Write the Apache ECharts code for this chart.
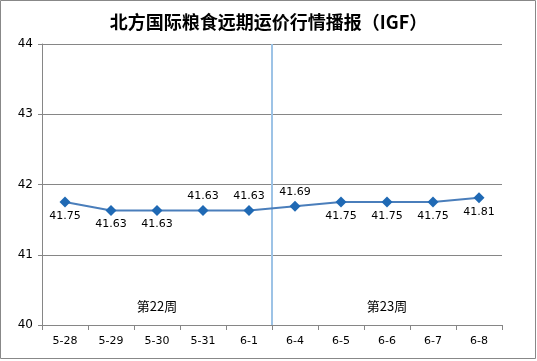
<!DOCTYPE html>
<html><head><meta charset="utf-8">
<script src="https://cdn.jsdelivr.net/npm/echarts@6/dist/echarts.min.js"></script>
<style>html,body{margin:0;padding:0;background:#fff}#c{width:537px;height:361px}</style>
</head><body><div id="c"></div>
<script>
var categories = ['5-28','5-29','5-30','5-31','6-1','6-4','6-5','6-6','6-7','6-8'];
var values = [41.75,41.63,41.63,41.63,41.63,41.69,41.75,41.75,41.75,41.81];
var labelPos = ['bottom','bottom','bottom','top','top','top','bottom','bottom','bottom','bottom'];
var weekLabels = ['第22周','第23周'];
var weekSizes = [5,5];
var titleText = '北方国际粮食远期运价行情播报（IGF）';

var chart = echarts.init(document.getElementById('c'), null, {renderer:'canvas'});
var grey = '#868686';
var font = 'Verdana, "DejaVu Sans", sans-serif';
var weekStart = [0, weekSizes[0]];
var weekEnd = [weekSizes[0], weekSizes[0]+weekSizes[1]];
chart.setOption({
  animation:false,
  title:{text:titleText,left:'center',top:8,textStyle:{fontFamily:'"Noto Sans CJK SC"',fontSize:18,fontWeight:'bold',color:'#000'}},
  grid:{left:42,right:35,top:44,bottom:36},
  xAxis:[{type:'category',data:categories,boundaryGap:true,
    axisLine:{lineStyle:{color:grey,width:1}},
    axisTick:{show:true,length:5,lineStyle:{color:grey}},
    axisLabel:{color:'#000',fontSize:11,fontFamily:font,margin:11},
    splitLine:{show:false}
  },{type:'value',min:0,max:categories.length,show:false}],
  yAxis:{type:'value',min:40,max:44,interval:1,
    axisLine:{show:true,lineStyle:{color:grey}},
    axisTick:{show:true,length:4,lineStyle:{color:grey}},
    axisLabel:{color:'#000',fontSize:12,fontFamily:font,margin:9},
    splitLine:{lineStyle:{color:grey,width:1}}
  },
  series:[{type:'line',data:values.map(function(v,i){return {value:v,label:{position:labelPos[i]}};}),
    symbol:'diamond',symbolSize:11,z:5,
    lineStyle:{color:'#4A7EBB',width:2},
    itemStyle:{color:'#1F69B4'},
    label:{show:true,color:'#000',fontSize:11,fontFamily:font,distance:3,formatter:function(p){return p.value.toFixed(2);}}
  },{type:'line',xAxisIndex:1,data:[],silent:true,
    markLine:{symbol:'none',silent:true,label:{show:false},lineStyle:{color:'#9DC3E6',width:2,type:'solid'},
      data:[{xAxis:weekEnd[0]}]},
    markArea:{silent:true,itemStyle:{color:'rgba(0,0,0,0)'},
      label:{show:true,position:'insideBottom',distance:12,color:'#000',fontSize:13,fontFamily:'"Noto Sans CJK SC"'},
      data:weekLabels.map(function(w,i){return [{name:w,xAxis:weekStart[i]},{xAxis:weekEnd[i]}];})}
  }],
  graphic:[
    {type:'rect',shape:{x:0.5,y:0.5,width:535,height:358},style:{fill:'none',stroke:'#888',lineWidth:1},silent:true}
  ]
});
</script></body></html>
